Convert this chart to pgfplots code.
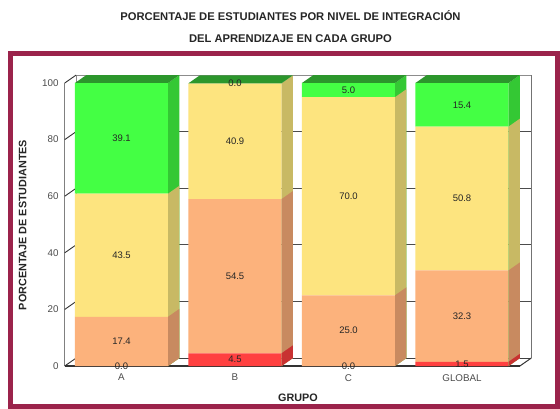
\documentclass[border=0pt]{standalone}
\usepackage{pgfplots}
\pgfplotsset{compat=1.18}
\usepackage{fontspec}
\setmainfont{Liberation Sans}
\definecolor{cRed}{RGB}{255,64,64}
\definecolor{cRedS}{RGB}{200,50,50}
\definecolor{cOra}{RGB}{252,178,124}
\definecolor{cOraS}{RGB}{200,138,96}
\definecolor{cYel}{RGB}{253,228,127}
\definecolor{cYelS}{RGB}{200,185,100}
\definecolor{cGre}{RGB}{68,255,68}
\definecolor{cGreS}{RGB}{52,200,52}
\definecolor{cGreT}{RGB}{44,150,44}
\definecolor{frameC}{RGB}{155,35,75}
\pgfplotsset{base/.style={
  scale only axis, x=113.5pt, y=2.83pt,
  xmin=-0.5, xmax=3.61, ymin=0, ymax=102.8,
  at={(64.75pt,-366pt)}, anchor=south west, clip=false}}
\begin{document}
\begin{tikzpicture}
\useasboundingbox (0,0) rectangle (560pt,-409pt);
\fill[white] (0,0) rectangle (560pt,-409pt);
\node[anchor=base, font=\bfseries\fontsize{11.2}{13}\selectfont, text=black!85] at (290.5pt,-21pt) {PORCENTAJE DE ESTUDIANTES POR NIVEL DE INTEGRACIÓN};
\node[anchor=base, font=\bfseries\fontsize{11.2}{13}\selectfont, text=black!85] at (290.5pt,-43pt) {DEL APRENDIZAJE EN CADA GRUPO};
\draw[frameC, line width=5pt] (10pt,-54pt) rectangle (557.5pt,-406.5pt);

% background: walls, grid, ticks, labels
\begin{axis}[base,
  axis line style={draw=none}, tick style={draw=none}, major tick length=0pt,
  xtick={0,1,2,3}, xticklabels={A,B,C,GLOBAL},
  ytick={0,20,40,60,80,100},
  /pgf/number format/assume math mode=true,
  ticklabel style={font=\fontsize{9.8}{11}\selectfont, text=black!70},
  xticklabel style={inner sep=0pt, anchor=north, yshift=-8pt},
  yticklabel style={inner sep=0pt, anchor=east, xshift=-6pt},
  xlabel={GRUPO}, ylabel={PORCENTAJE DE ESTUDIANTES},
  label style={font=\bfseries\fontsize{10.8}{13}\selectfont, text=black!85},
  xlabel style={at={(axis description cs:0.5,-0.11)}, anchor=center},
  ylabel style={at={(axis description cs:-0.09,0.485)}, anchor=center},
]
% back wall grid lines
\addplot[black!45, line width=0.8pt] coordinates {(-0.4,102.8) (3.61,102.8)};
\addplot[black!70, line width=1pt] coordinates {(-0.4,82.8) (3.61,82.8)};
\addplot[black!70, line width=1pt] coordinates {(-0.4,62.8) (3.61,62.8)};
\addplot[black!70, line width=1pt] coordinates {(-0.4,42.8) (3.61,42.8)};
\addplot[black!70, line width=1pt] coordinates {(-0.4,22.8) (3.61,22.8)};
\addplot[black!75, line width=1pt] coordinates {(-0.4,2.8) (3.61,2.8)};
% wall verticals
\addplot[black!45, line width=0.8pt] coordinates {(-0.4,2.8) (-0.4,102.8)};
\addplot[black!55, line width=0.9pt] coordinates {(3.61,2.8) (3.61,102.8)};
% front left axis
\addplot[black!50, line width=1.3pt] coordinates {(-0.5,0) (-0.5,100)};
% diagonal ticks
\addplot[black!80, line width=0.9pt] coordinates {(-0.5,0) (-0.4,2.8)};
\addplot[black!80, line width=0.9pt] coordinates {(-0.5,20) (-0.4,22.8)};
\addplot[black!80, line width=0.9pt] coordinates {(-0.5,40) (-0.4,42.8)};
\addplot[black!80, line width=0.9pt] coordinates {(-0.5,60) (-0.4,62.8)};
\addplot[black!80, line width=0.9pt] coordinates {(-0.5,80) (-0.4,82.8)};
\addplot[black!80, line width=0.9pt] coordinates {(-0.5,100) (-0.4,102.8)};
% floor
\addplot[black!80, line width=1.2pt] coordinates {(-0.5,0) (3.51,0)};
\addplot[black!80, line width=1pt] coordinates {(3.51,0) (3.61,2.8)};
\end{axis}

% front faces: stacked bars
\begin{axis}[base, hide axis, ybar stacked, bar width=0.82]
\addplot[fill=cRed, draw=none] coordinates {(0,0.0) (1,4.5) (2,0.0) (3,1.5)};
\addplot[fill=cOra, draw=none] coordinates {(0,17.4) (1,54.5) (2,25.0) (3,32.3)};
\addplot[fill=cYel, draw=none] coordinates {(0,43.5) (1,40.9) (2,70.0) (3,50.8)};
\addplot[fill=cGre, draw=none] coordinates {(0,39.1) (1,0.0) (2,5.0) (3,15.4)};
\end{axis}

% side and top faces, value labels
\begin{axis}[base, hide axis]
% A
\addplot[fill=cGreS, draw=none] coordinates {(0.41,0) (0.51,2.8) (0.51,102.8) (0.41,100)};
\addplot[fill=cYelS, draw=none] coordinates {(0.41,0) (0.51,2.8) (0.51,63.7) (0.41,60.9)};
\addplot[fill=cOraS, draw=none] coordinates {(0.41,0) (0.51,2.8) (0.51,20.2) (0.41,17.4)};
\addplot[fill=cGreT, draw=none] coordinates {(-0.41,100) (0.41,100) (0.51,102.8) (-0.31,102.8)};
% B
\addplot[fill=cYelS, draw=none] coordinates {(1.41,0) (1.51,2.8) (1.51,102.7) (1.41,99.9)};
\addplot[fill=cOraS, draw=none] coordinates {(1.41,0) (1.51,2.8) (1.51,61.8) (1.41,59.0)};
\addplot[fill=cRedS, draw=none] coordinates {(1.41,0) (1.51,2.8) (1.51,7.3) (1.41,4.5)};
\addplot[fill=cGreT, draw=none] coordinates {(0.59,99.9) (1.41,99.9) (1.51,102.7) (0.69,102.7)};
% C
\addplot[fill=cGreS, draw=none] coordinates {(2.41,0) (2.51,2.8) (2.51,102.8) (2.41,100)};
\addplot[fill=cYelS, draw=none] coordinates {(2.41,0) (2.51,2.8) (2.51,97.8) (2.41,95.0)};
\addplot[fill=cOraS, draw=none] coordinates {(2.41,0) (2.51,2.8) (2.51,27.8) (2.41,25.0)};
\addplot[fill=cGreT, draw=none] coordinates {(1.59,100) (2.41,100) (2.51,102.8) (1.69,102.8)};
% GLOBAL
\addplot[fill=cGreS, draw=none] coordinates {(3.41,0) (3.51,2.8) (3.51,102.8) (3.41,100)};
\addplot[fill=cYelS, draw=none] coordinates {(3.41,0) (3.51,2.8) (3.51,87.4) (3.41,84.6)};
\addplot[fill=cOraS, draw=none] coordinates {(3.41,0) (3.51,2.8) (3.51,36.6) (3.41,33.8)};
\addplot[fill=cRedS, draw=none] coordinates {(3.41,0) (3.51,2.8) (3.51,4.3) (3.41,1.5)};
\addplot[fill=cGreT, draw=none] coordinates {(2.59,100) (3.41,100) (3.51,102.8) (2.69,102.8)};
% labels
\addplot[draw=none, nodes near coords, point meta=explicit symbolic,
  every node near coord/.style={anchor=center, inner sep=0pt, font=\fontsize{9.5}{11}\selectfont, text=black!85}]
coordinates {
 (0,0)[0.0] (0,8.7)[17.4] (0,39.15)[43.5] (0,80.45)[39.1]
 (1,2.25)[4.5] (1,31.75)[54.5] (1,79.45)[40.9] (1,99.9)[0.0]
 (2,0)[0.0] (2,12.5)[25.0] (2,60.0)[70.0] (2,97.5)[5.0]
 (3,0.75)[1.5] (3,17.65)[32.3] (3,59.2)[50.8] (3,92.3)[15.4]
};
\end{axis}
\end{tikzpicture}
\end{document}
